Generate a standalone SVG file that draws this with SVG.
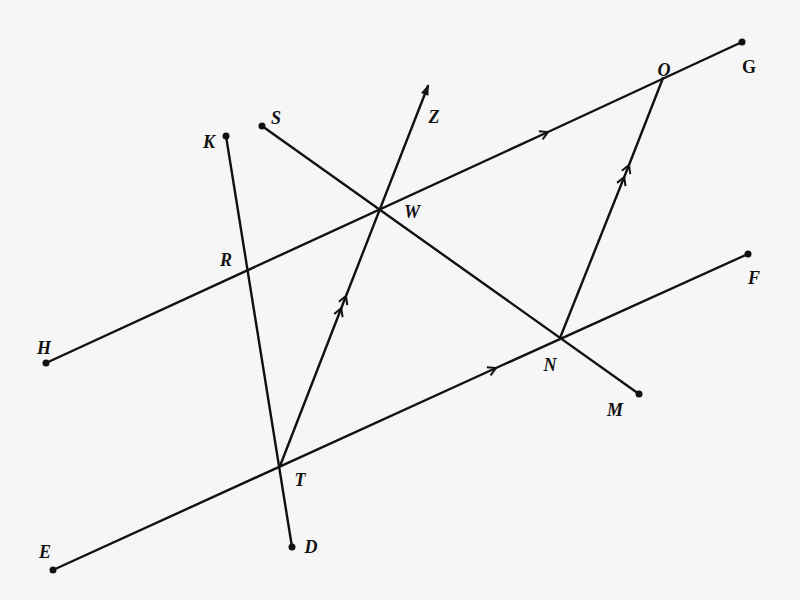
<svg xmlns="http://www.w3.org/2000/svg" width="800" height="600" viewBox="0 0 800 600">
<style>
.ln{fill:none;stroke:#111;stroke-width:2.4;stroke-linecap:round}
.dot{fill:#111}
.lb{font-family:"Liberation Serif",serif;font-style:italic;font-weight:bold;font-size:18px;fill:#111;text-anchor:middle}
</style>
<defs>
<marker id="ch" markerUnits="userSpaceOnUse" orient="auto" overflow="visible" markerWidth="1" markerHeight="1">
<path d="M-8,-4.5 L0,0 L-8,4.5" fill="none" stroke="#111" stroke-width="2"/>
</marker>
<marker id="ch2" markerUnits="userSpaceOnUse" orient="auto" overflow="visible" markerWidth="1" markerHeight="1">
<path d="M-8,-4.5 L0,0 L-8,4.5 M-21,-4.5 L-13,0 L-21,4.5" fill="none" stroke="#111" stroke-width="2"/>
</marker>
<marker id="ah" markerUnits="userSpaceOnUse" orient="auto" overflow="visible" markerWidth="1" markerHeight="1">
<path d="M2,0 L-9,-4 L-9,4 Z" fill="#111"/>
</marker>
</defs>
<rect width="800" height="600" fill="#f6f6f6"/>
<g id="connectors">
<path class="ln" d="M46,363 L548,132 L742,42" marker-mid="url(#ch)"/>
<path class="ln" d="M53,570 L496,368 L748,254" marker-mid="url(#ch)"/>
<path class="ln" d="M280,466 L346,296 L428,86" marker-mid="url(#ch2)" marker-end="url(#ah)"/>
<path class="ln" d="M560,338 L629,165 L663,78" marker-mid="url(#ch2)"/>
<path class="ln" d="M226,136 L292,547"/>
<path class="ln" d="M262,126 L639,394"/>
</g>
<g id="H"><circle class="dot" cx="46" cy="363" r="3.5"/><text class="lb" x="44" y="354">H</text></g>
<g id="G"><circle class="dot" cx="742" cy="42" r="3.5"/><text class="lb" x="749" y="73" style="font-style:normal">G</text></g>
<g id="E"><circle class="dot" cx="53" cy="570" r="3.5"/><text class="lb" x="45" y="558">E</text></g>
<g id="F"><circle class="dot" cx="748" cy="254" r="3.5"/><text class="lb" x="754" y="284">F</text></g>
<g id="K"><circle class="dot" cx="226" cy="136" r="3.5"/><text class="lb" x="209" y="148">K</text></g>
<g id="D"><circle class="dot" cx="292" cy="547" r="3.5"/><text class="lb" x="311" y="553">D</text></g>
<g id="S"><circle class="dot" cx="262" cy="126" r="3.5"/><text class="lb" x="276" y="124">S</text></g>
<g id="M"><circle class="dot" cx="639" cy="394" r="3.5"/><text class="lb" x="615" y="416">M</text></g>
<g id="O"><text class="lb" x="664" y="76">O</text></g>
<g id="Z"><text class="lb" x="434" y="123">Z</text></g>
<g id="W"><text class="lb" x="412" y="218">W</text></g>
<g id="R"><text class="lb" x="226" y="266">R</text></g>
<g id="T"><text class="lb" x="300" y="486">T</text></g>
<g id="N"><text class="lb" x="550" y="371">N</text></g>
</svg>
